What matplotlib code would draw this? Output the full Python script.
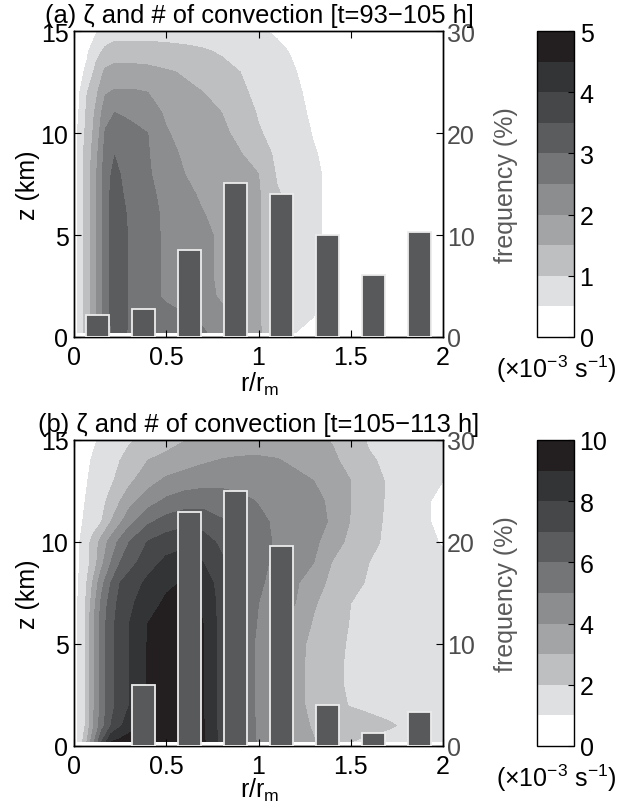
import numpy as np
import matplotlib
matplotlib.use("Agg")
import matplotlib.pyplot as plt

plt.rcParams['font.family'] = ['Liberation Sans', 'DejaVu Sans']
plt.rcParams['mathtext.fontset'] = 'custom'
plt.rcParams['mathtext.rm'] = 'Liberation Sans'
plt.rcParams['mathtext.it'] = 'Liberation Sans:italic'
plt.rcParams['mathtext.bf'] = 'Liberation Sans:bold'

# ---------------- data ----------------
# radial bins of the convection histogram (r / r_m)
bin_centers = np.array([0.125, 0.375, 0.625, 0.875, 1.125, 1.375, 1.625, 1.875])
freq_a = np.array([2.2, 2.7, 8.5, 15.1, 14.0, 10.0, 6.1, 10.3])
freq_b = np.array([0.0, 6.0, 22.9, 25.0, 19.6, 4.0, 1.3, 3.3])

# azimuthal-mean vertical vorticity (1e-3 s^-1), panel (a)
r_a = [0.02, 0.07, 0.12, 0.17, 0.22, 0.27, 0.32, 0.4, 0.5, 0.6, 0.7,
       0.8, 0.9, 1.0, 1.1, 1.2, 1.3, 1.4, 1.6, 1.8, 2.0]
z_a = [0.2, 1, 2, 3, 4, 5, 6, 7, 8, 9, 10, 11, 12, 13, 14, 15]
zeta_a = [
    [0.60, 1.20, 1.90, 2.75, 3.10, 3.10, 2.80, 2.70, 2.70, 2.65, 2.55, 2.30, 2.00, 1.60, 0.90, 0.50, 0.35, 0.25, 0.20, 0.15, 0.10],
    [0.65, 1.20, 1.95, 2.78, 3.25, 3.15, 2.78, 2.68, 2.60, 2.55, 2.40, 2.10, 1.85, 1.58, 0.95, 0.72, 0.50, 0.35, 0.25, 0.20, 0.15],
    [0.65, 1.20, 1.95, 2.78, 3.25, 3.15, 2.78, 2.60, 2.45, 2.30, 2.12, 1.95, 1.72, 1.55, 1.02, 0.80, 0.55, 0.38, 0.28, 0.20, 0.15],
    [0.65, 1.20, 1.95, 2.78, 3.25, 3.15, 2.78, 2.60, 2.45, 2.30, 2.12, 1.90, 1.72, 1.55, 1.05, 0.80, 0.56, 0.38, 0.28, 0.20, 0.15],
    [0.65, 1.20, 1.95, 2.78, 3.25, 3.15, 2.78, 2.60, 2.45, 2.30, 2.12, 1.90, 1.72, 1.55, 1.10, 0.80, 0.57, 0.40, 0.30, 0.20, 0.15],
    [0.65, 1.20, 1.95, 2.78, 3.25, 3.15, 2.78, 2.60, 2.45, 2.30, 2.12, 1.90, 1.72, 1.55, 1.10, 0.80, 0.57, 0.40, 0.30, 0.20, 0.15],
    [0.65, 1.20, 1.95, 2.78, 3.25, 3.10, 2.73, 2.59, 2.45, 2.28, 2.02, 1.85, 1.70, 1.55, 1.10, 0.80, 0.57, 0.40, 0.30, 0.20, 0.15],
    [0.65, 1.20, 1.95, 2.78, 3.25, 2.98, 2.70, 2.58, 2.40, 2.15, 1.90, 1.75, 1.65, 1.55, 1.05, 0.80, 0.57, 0.40, 0.30, 0.20, 0.15],
    [0.65, 1.20, 1.95, 2.75, 3.15, 2.90, 2.65, 2.55, 2.30, 2.00, 1.80, 1.70, 1.60, 1.50, 0.95, 0.75, 0.57, 0.40, 0.30, 0.20, 0.15],
    [0.65, 1.20, 1.85, 2.68, 2.98, 2.80, 2.60, 2.53, 2.20, 1.90, 1.70, 1.65, 1.52, 1.30, 0.88, 0.72, 0.53, 0.38, 0.28, 0.20, 0.15],
    [0.52, 1.15, 1.70, 2.55, 2.75, 2.68, 2.55, 2.50, 2.05, 1.80, 1.65, 1.58, 1.40, 1.05, 0.82, 0.68, 0.47, 0.35, 0.25, 0.20, 0.15],
    [0.42, 1.08, 1.60, 2.30, 2.50, 2.45, 2.45, 2.30, 1.90, 1.70, 1.60, 1.50, 1.30, 0.95, 0.78, 0.62, 0.42, 0.30, 0.25, 0.20, 0.15],
    [0.35, 0.98, 1.40, 1.95, 2.05, 2.05, 2.05, 2.00, 1.75, 1.60, 1.50, 1.35, 1.12, 0.85, 0.74, 0.57, 0.38, 0.30, 0.25, 0.20, 0.15],
    [0.30, 0.60, 1.15, 1.60, 1.70, 1.70, 1.70, 1.65, 1.55, 1.45, 1.35, 1.15, 1.00, 0.80, 0.68, 0.51, 0.35, 0.30, 0.25, 0.20, 0.15],
    [0.25, 0.42, 0.85, 1.10, 1.20, 1.20, 1.20, 1.20, 1.15, 1.10, 1.05, 0.95, 0.85, 0.70, 0.58, 0.45, 0.32, 0.30, 0.25, 0.20, 0.15],
    [0.20, 0.30, 0.45, 0.70, 0.80, 0.80, 0.80, 0.80, 0.80, 0.80, 0.75, 0.70, 0.65, 0.55, 0.45, 0.38, 0.30, 0.28, 0.25, 0.20, 0.15],
]

# azimuthal-mean vertical vorticity (1e-3 s^-1), panel (b)
r_b = [0.02, 0.06, 0.1, 0.15, 0.2, 0.25, 0.3, 0.4, 0.5, 0.6, 0.7, 0.8,
       0.9, 1.0, 1.1, 1.2, 1.3, 1.4, 1.5, 1.6, 1.7, 1.8, 1.9, 2.0]
z_b = [0.2, 1, 2, 3, 4, 5, 6, 7, 8, 9, 10, 11, 12, 13, 14, 15]
zeta_b = [
    [1.0, 2.5, 4.5, 7.0, 9.0, 9.3, 9.5, 9.6, 9.6, 9.5, 9.15, 7.7, 6.0, 4.85, 4.3, 3.7, 3.05, 2.5, 2.0, 1.8, 1.7, 1.6, 1.5, 1.4],
    [1.0, 2.0, 3.7, 5.6, 7.0, 7.85, 8.55, 9.3, 9.6, 9.5, 9.1, 7.6, 6.0, 4.8, 4.1, 3.35, 2.9, 2.7, 2.5, 2.3, 2.1, 1.9, 1.75, 1.6],
    [1.0, 2.0, 3.7, 5.45, 6.7, 7.43, 8.0, 9.05, 9.6, 9.5, 9.0, 7.57, 6.0, 4.71, 4.0, 3.3, 2.72, 2.25, 1.95, 1.8, 1.7, 1.6, 1.5, 1.4],
    [1.0, 2.0, 3.7, 5.45, 6.7, 7.43, 8.0, 9.05, 9.6, 9.5, 9.0, 7.57, 6.0, 4.71, 4.0, 3.3, 2.7, 2.15, 1.9, 1.8, 1.7, 1.6, 1.5, 1.4],
    [1.0, 2.0, 3.7, 5.45, 6.7, 7.43, 8.0, 9.05, 9.6, 9.5, 9.0, 7.57, 6.0, 4.71, 4.0, 3.3, 2.7, 2.15, 1.9, 1.8, 1.7, 1.6, 1.5, 1.4],
    [1.0, 2.0, 3.7, 5.45, 6.7, 7.43, 8.0, 9.05, 9.6, 9.5, 9.0, 7.57, 6.0, 4.71, 4.0, 3.33, 2.74, 2.2, 1.92, 1.8, 1.7, 1.6, 1.5, 1.4],
    [1.0, 2.0, 3.7, 5.45, 6.7, 7.43, 8.0, 9.0, 9.55, 9.45, 9.0, 7.57, 6.0, 4.88, 4.3, 3.62, 2.9, 2.37, 1.95, 1.8, 1.7, 1.6, 1.5, 1.4],
    [1.0, 1.9, 3.4, 5.25, 6.5, 7.3, 7.8, 8.53, 9.2, 9.3, 8.9, 7.6, 6.0, 5.0, 4.5, 4.0, 3.1, 2.53, 2.0, 1.85, 1.75, 1.65, 1.55, 1.45],
    [0.9, 1.7, 3.0, 4.67, 6.0, 7.0, 7.45, 8.22, 8.78, 9.1, 8.6, 7.5, 6.0, 5.17, 4.62, 4.14, 3.42, 2.75, 2.25, 1.9, 1.8, 1.7, 1.6, 1.5],
    [0.85, 1.5, 2.33, 3.75, 5.0, 6.0, 6.62, 7.55, 8.25, 8.55, 8.0, 7.17, 6.0, 5.29, 4.77, 4.38, 4.0, 2.95, 2.48, 2.0, 1.8, 1.7, 1.4, 1.25],
    [0.8, 1.5, 2.25, 3.4, 4.4, 5.28, 6.0, 7.05, 7.5, 7.7, 7.4, 6.8, 5.9, 5.33, 4.87, 4.53, 4.2, 3.5, 2.7, 2.2, 1.85, 1.6, 1.3, 0.9],
    [0.7, 1.14, 1.52, 2.0, 3.0, 3.83, 4.67, 5.8, 6.4, 6.7, 6.6, 6.1, 5.65, 5.2, 4.85, 4.55, 4.27, 3.9, 2.94, 2.35, 1.85, 1.5, 1.1, 0.8],
    [0.6, 1.0, 1.33, 1.75, 2.29, 3.0, 3.63, 4.58, 5.2, 5.5, 5.6, 5.5, 5.25, 4.95, 4.7, 4.45, 4.2, 3.85, 3.0, 2.4, 1.9, 1.5, 1.1, 0.8],
    [0.5, 0.9, 1.17, 1.52, 1.86, 2.3, 2.8, 3.6, 4.2, 4.5, 4.65, 4.7, 4.65, 4.5, 4.35, 4.2, 4.0, 3.5, 3.0, 2.45, 1.9, 1.6, 1.3, 1.0],
    [0.4, 0.8, 1.06, 1.37, 1.69, 2.0, 2.33, 3.0, 3.3, 3.55, 3.85, 4.05, 4.12, 4.12, 4.05, 3.85, 3.5, 3.17, 2.7, 2.1, 1.85, 1.7, 1.6, 1.5],
    [0.3, 0.6, 0.85, 1.15, 1.4, 1.65, 1.9, 2.3, 2.6, 2.97, 3.2, 3.4, 3.55, 3.6, 3.55, 3.4, 3.2, 2.95, 2.4, 1.9, 1.8, 1.7, 1.6, 1.5],
]

titles = ['(a) \u03b6 and # of convection [t=93\u2212105 h]',
          '(b) \u03b6 and # of convection [t=105\u2212113 h]']

# gray shading, light to dark
grays = ['#ffffff', '#dfe0e2', '#bebfc1', '#a3a4a6', '#8c8d8f',
         '#747577', '#5b5c5e', '#464749', '#333436', '#231f20']

# ---------------- figure ----------------
W, H = 631, 812
fig = plt.figure(figsize=(W / 100, H / 100), dpi=100)

FS = 18
BAR_COLOR = '#58595b'
RIGHT_GRAY = '#4d4d4d'


def px_axes(left, top, right, bottom):
    return [left / W, 1 - bottom / H, (right - left) / W, (bottom - top) / H]


panels = [
    dict(r=r_a, z=z_a, zeta=zeta_a, freq=freq_a, vmax=5.0, step=0.5,
         cticks=[0, 1, 2, 3, 4, 5], top=32, bottom=338, title_y=23,
         xlabel_y=392),
    dict(r=r_b, z=z_b, zeta=zeta_b, freq=freq_b, vmax=10.0, step=1.0,
         cticks=[0, 2, 4, 6, 8, 10], top=441, bottom=747, title_y=432,
         xlabel_y=798),
]

for p, title in zip(panels, titles):
    ax = fig.add_axes(px_axes(74, p['top'], 443, p['bottom']))
    levels = np.arange(0, p['vmax'] + p['step'] / 2, p['step'])
    cf = ax.contourf(p['r'], p['z'], np.array(p['zeta']), levels=levels,
                     colors=grays)
    ax.set_xlim(0, 2)
    ax.set_ylim(0, 15)
    ax.set_xticks([0, 0.5, 1, 1.5, 2])
    ax.set_xticklabels(['0', '0.5', '1', '1.5', '2'])
    ax.set_yticks([0, 5, 10, 15])
    ax.tick_params(direction='in', top=True, right=False, length=5,
                   width=0.8, labelsize=FS, pad=6, colors='black')
    ax.tick_params(axis='y', pad=4)
    for s in ax.spines.values():
        s.set_linewidth(1.0)

    # histogram of convection on the right axis
    ax2 = ax.twinx()
    keep = p['freq'] > 0
    ax2.bar(bin_centers[keep], p['freq'][keep], width=0.125,
            color=BAR_COLOR, edgecolor='#ececec', linewidth=1.3, zorder=3)
    ax2.set_ylim(0, 30)
    ax2.set_xlim(0, 2)
    ax2.set_yticks([0, 10, 20, 30])
    ax2.tick_params(direction='in', length=5, width=0.8, labelsize=FS,
                    pad=3, labelcolor=RIGHT_GRAY, color='black')
    for s in ax2.spines.values():
        s.set_linewidth(1.0)

    mid = (p['top'] + p['bottom']) / 2
    fig.text(259 / W, 1 - p['title_y'] / H, title, ha='center',
             va='baseline', fontsize=18.4)
    fig.text(28 / W, 1 - mid / H, 'z (km)', rotation=90, ha='center',
             va='center', fontsize=FS)
    fig.text(260 / W, 1 - p['xlabel_y'] / H, r'r/r$_{\rm m}$',
             ha='center', va='baseline', fontsize=FS)
    fig.text(506 / W, 1 - mid / H, 'frequency (%)', rotation=90,
             ha='center', va='center', fontsize=FS, color='#5a5a5a')

    # colour bar
    cax = fig.add_axes(px_axes(537, p['top'], 574, p['bottom']))
    cb = fig.colorbar(cf, cax=cax, ticks=p['cticks'])
    cb.ax.tick_params(direction='in', length=4, width=0.8, labelsize=FS,
                      pad=4)
    cb.outline.set_linewidth(1.0)
    fig.text(556 / W, 1 - (p['bottom'] + 40) / H,
             '(\u00d710$^{-3}$ s$^{-1}$)', ha='center', va='baseline',
             fontsize=FS)

fig.savefig('out.png', dpi=100)
